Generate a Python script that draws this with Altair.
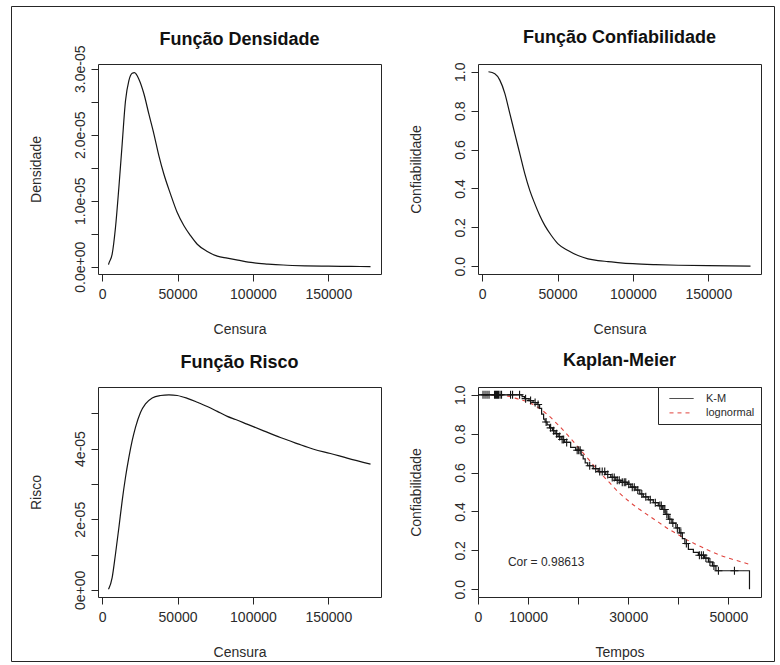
import altair as alt
import pandas as pd

FONT = "Liberation Sans"
INK = "#151515"
TXT = "#2b2b2b"
BOX = "#262626"
RED = "#e0443e"

# ---------------- data ----------------
# Função Densidade (x = Censura, y in units of 1e-05)
dens_x = [4200, 4450, 6640, 8830, 11090, 13280, 15470, 17730, 19920, 21450, 24370, 27690,
          31010, 34330, 37650, 40970, 45350, 49800, 54250, 58630, 63080, 69720, 76360, 83000,
          90000, 100000, 110000, 120000, 135000, 150000, 165000, 178000]
dens_y = [0.03, 0.05, 0.19, 0.59, 1.20, 1.86, 2.51, 2.82, 2.93, 2.94, 2.84, 2.62,
          2.31, 2.01, 1.68, 1.40, 1.10, 0.82, 0.62, 0.47, 0.34, 0.23, 0.16, 0.13,
          0.10, 0.06, 0.04, 0.025, 0.013, 0.007, 0.004, 0.002]

# Função Confiabilidade
rel_x = [4200, 8410, 11720, 15030, 18340, 21660, 24970, 28280, 31590, 34900, 38210, 41520,
         45890, 50330, 56950, 63580, 70200, 76820, 83440, 90000, 100000, 115000, 130000,
         150000, 178000]
rel_y = [1.0, 0.99, 0.957, 0.889, 0.786, 0.682, 0.579, 0.476, 0.39, 0.322, 0.261, 0.21,
         0.158, 0.115, 0.081, 0.055, 0.038, 0.029, 0.024, 0.019, 0.013, 0.008, 0.005,
         0.003, 0.001]

# Função Risco (y in units of 1e-05)
haz_x = [4200, 4450, 6640, 8830, 11090, 13280, 15470, 17730, 19920, 22110, 25430, 28750,
         33200, 38710, 44290, 49800, 56440, 63080, 69720, 76360, 83000, 88530, 96080,
         107100, 118200, 129300, 140300, 151400, 162500, 178000]
haz_y = [0.02, 0.04, 0.35, 1.01, 1.76, 2.52, 3.18, 3.75, 4.22, 4.60, 5.02, 5.26,
         5.43, 5.50, 5.52, 5.50, 5.42, 5.31, 5.19, 5.05, 4.91, 4.82, 4.69,
         4.50, 4.31, 4.14, 3.98, 3.86, 3.73, 3.56]

# Kaplan-Meier step curve (time of each step, survival after it)
km_t = [0, 8800, 9300, 10200, 11000, 11800, 12300, 12700, 13100, 13400, 13800, 14300,
        14900, 15400, 16000, 16600, 17300, 18500, 19500, 20600, 21000, 21400, 21900,
        23000, 24000, 25500, 26500, 27500, 28500, 29800, 30500, 31500, 32300, 33000,
        34000, 35000, 36000, 36800, 37500, 38000, 38700, 39500, 40200, 40800, 41300,
        42000, 43000, 44000, 45200, 46000, 46800, 47500, 54200]
km_s = [1.0, 0.99, 0.98, 0.97, 0.96, 0.95, 0.93, 0.90, 0.875, 0.86, 0.845, 0.83,
        0.815, 0.80, 0.785, 0.77, 0.755, 0.73, 0.715, 0.69, 0.67, 0.65, 0.635,
        0.62, 0.605, 0.59, 0.575, 0.56, 0.55, 0.54, 0.525, 0.51, 0.49, 0.475,
        0.46, 0.445, 0.43, 0.41, 0.385, 0.36, 0.34, 0.315, 0.29, 0.26, 0.235,
        0.205, 0.19, 0.175, 0.16, 0.14, 0.12, 0.095, 0.0]

# censored times (marked with +)
cens_t = [1000, 1400, 1800, 2200, 3300, 3500, 3700, 3900, 4100, 4400, 4700, 6500, 6900,
          8300, 9500, 10500, 11400, 12000, 13600, 14500, 15100, 15700, 16300, 16800,
          17100, 17700, 19800, 20100, 20400, 22300, 23500, 24300, 24800, 25300, 25900,
          26800, 27200, 27800, 28200, 28800, 29200, 29500, 30100, 30800, 31200, 31900,
          32700, 33500, 34400, 35400, 36300, 36600, 37100, 37300, 37700, 38300, 38900,
          39800, 40500, 41600, 44200, 44600, 45000, 45500, 46300, 47100, 48000, 51200]

# fitted lognormal reliability
logn_t = [1000, 4000, 6000, 8000, 10000, 12000, 14000, 16000, 18000, 20000, 22000, 24000,
          26000, 28000, 30000, 32000, 34000, 36000, 38000, 40000, 42000, 44000, 46000,
          48000, 50000, 52000, 54200]
logn_s = [1.0, 0.999, 0.993, 0.978, 0.962, 0.935, 0.895, 0.845, 0.79, 0.73, 0.67, 0.61,
          0.555, 0.50, 0.455, 0.415, 0.38, 0.345, 0.31, 0.28, 0.25, 0.225, 0.20,
          0.178, 0.16, 0.145, 0.128]

series_names = ["K-M", "lognormal"]
cor_label = "Cor =  0.98613"
COR_T, COR_S = 13600, 0.14

# ticks and labels
c_xticks = [0, 50000, 100000, 150000]
dens_ticks = [0, 0.5e-5, 1e-5, 1.5e-5, 2e-5, 2.5e-5, 3e-5]
dens_labels = ["0.0e+00", "", "1.0e-05", "", "2.0e-05", "", "3.0e-05"]
rel_ticks = [0, 0.2, 0.4, 0.6, 0.8, 1.0]
haz_ticks = [0, 1e-5, 2e-5, 3e-5, 4e-5, 5e-5]
haz_labels = ["0e+00", "", "2e-05", "", "4e-05", ""]
km_xticks = [0, 10000, 20000, 30000, 40000, 50000]
km_xlabels = ["0", "10000", "", "30000", "", "50000"]

# ---------------- helpers ----------------
W, H = 283, 210


def lab_expr(vals, labs, k):
    parts = [f"round(datum.value*{k})=={round(v * k)} ? '{l}'" for v, l in zip(vals, labs)]
    return " : ".join(parts) + " : ''"


XDOM = [-2750, 184950]


def curve(xs, ys, ydom, yaxis):
    df = pd.DataFrame({"x": xs, "y": ys})
    return alt.Chart(df).mark_line(color=INK, strokeWidth=1.2, interpolate="monotone").encode(
        x=alt.X("x:Q", scale=alt.Scale(domain=XDOM, nice=False, zero=False),
                axis=alt.Axis(values=c_xticks, format="d", title="Censura")),
        y=alt.Y("y:Q", scale=alt.Scale(domain=ydom, nice=False, zero=False), axis=yaxis),
    )


p1_line = curve(dens_x, [v * 1e-5 for v in dens_y], [-0.111e-5, 3.071e-5],
                alt.Axis(values=dens_ticks, labelExpr=lab_expr(dens_ticks, dens_labels, 1e7),
                         title="Densidade"))
frame = alt.Chart(pd.DataFrame({"f": [0]})).mark_rect(
    fill="transparent", stroke=BOX, strokeWidth=1
).encode(x=alt.value(-86.5), x2=alt.value(676.5), y=alt.value(-57.5), y2=alt.value(597.5))
p1 = alt.layer(p1_line, frame).properties(
    width=W, height=H,
    title=alt.TitleParams("Função Densidade", offset=-43, frame="group"))

p2 = curve(rel_x, rel_y, [-0.04, 1.04],
           alt.Axis(values=rel_ticks, format=".1f", title="Confiabilidade")).properties(
    width=W, height=H,
    title=alt.TitleParams("Função Confiabilidade", offset=15, frame="group"))

p3 = curve(haz_x, [v * 1e-5 for v in haz_y], [-0.2e-5, 5.74e-5],
           alt.Axis(values=haz_ticks, labelExpr=lab_expr(haz_ticks, haz_labels, 1e6),
                    title="Risco")).properties(
    width=W, height=H,
    title=alt.TitleParams("Função Risco", offset=15, frame="group"))

# Kaplan-Meier panel
def km_at(t):
    s = km_s[0]
    for tt, ss in zip(km_t, km_s):
        if tt <= t:
            s = ss
    return s


km_df = pd.DataFrame({"t": km_t, "s": km_s, "serie": series_names[0]})
logn_df = pd.DataFrame({"t": logn_t, "s": logn_s, "serie": series_names[1]})
cens_df = pd.DataFrame({"t": cens_t, "s": [km_at(t) for t in cens_t]})

KX = alt.X("t:Q", scale=alt.Scale(domain=[0, 56500], nice=False, zero=False),
           axis=alt.Axis(values=km_xticks, labelExpr=lab_expr(km_xticks, km_xlabels, 1),
                         title="Tempos"))
KY = alt.Y("s:Q", scale=alt.Scale(domain=[-0.04, 1.04], nice=False, zero=False),
           axis=alt.Axis(values=rel_ticks, format=".1f", title="Confiabilidade"))
leg = alt.Legend(title=None, orient="top-right", offset=0, strokeColor=BOX, fillColor="white",
                 padding=6, labelFont=FONT, labelFontSize=11, labelColor=TXT,
                 symbolType="M0,0L8,0", symbolSize=36, symbolStrokeWidth=1,
                 labelOffset=31, rowPadding=2.4)
CC = alt.Color("serie:N", scale=alt.Scale(domain=series_names, range=[INK, RED]), legend=leg)
DD = alt.StrokeDash("serie:N", scale=alt.Scale(domain=series_names, range=[[1, 0], [4, 4]]),
                    legend=leg)

logn_line = alt.Chart(logn_df).mark_line(strokeWidth=1.1, interpolate="monotone").encode(
    x=KX, y=KY, color=CC, strokeDash=DD)
km_line = alt.Chart(km_df).mark_line(strokeWidth=1.2, interpolate="step-after").encode(
    x=KX, y=KY, color=CC, strokeDash=DD)
cens = alt.Chart(cens_df).mark_point(shape="M-1,0L1,0M0,-1L0,1", filled=False, size=64,
                                     color=INK, strokeWidth=1.1, opacity=1).encode(x=KX, y=KY)
cor = alt.Chart(pd.DataFrame({"lab": [cor_label]})).mark_text(
    font=FONT, fontSize=12, color=TXT).encode(x=alt.datum(COR_T), y=alt.datum(COR_S), text="lab:N")

p4 = alt.layer(logn_line, km_line, cens, cor).properties(
    width=W, height=H,
    title=alt.TitleParams("Kaplan-Meier", offset=15, frame="group"))

chart = alt.concat(p1, p2, p3, p4, columns=2, spacing={"row": 113, "column": 97},
                   bounds="flush").resolve_scale(
    color="independent", strokeDash="independent"
).resolve_legend(color="independent", strokeDash="independent").properties(
    padding={"left": 10, "top": 5, "right": 0, "bottom": 0}, background="white"
).configure_view(stroke=BOX, strokeWidth=1).configure_axis(
    domain=False, grid=False, ticks=True, tickColor=BOX, tickSize=7, tickWidth=1,
    labelFont=FONT, labelFontSize=14, labelColor=TXT, titleFont=FONT, titleFontSize=14,
    titleFontWeight="normal", titleColor=TXT, labelFlush=False, labelOverlap=False
).configure_axisBottom(labelPadding=6, titlePadding=21).configure_axisLeft(
    labelAngle=270, labelAlign="center", labelBaseline="alphabetic", labelPadding=7,
    titlePadding=30
).configure_title(font=FONT, fontSize=18, fontWeight="bold", color="#111111",
                  baseline="alphabetic", anchor="middle")

chart.save("out.html", embed_options={"renderer": "svg", "actions": False})
